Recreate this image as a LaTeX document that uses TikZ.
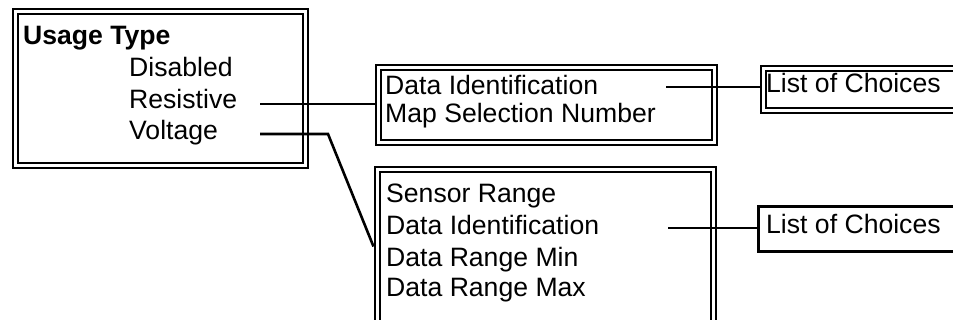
\documentclass[tikz,border=0pt]{standalone}
\usepackage{fontspec}
\setmainfont{Liberation Sans}
\begin{document}
\begin{tikzpicture}[x=1pt,y=-1pt,
  txt/.style={anchor=base west,inner sep=0pt,font=\fontsize{26.6}{31}\selectfont},
  dbox/.style={draw,double,line width=2pt,double distance=3pt,anchor=north west,inner sep=0pt,outer sep=3.5pt},
  sbox/.style={draw,line width=2.6pt,anchor=north west,inner sep=0pt},
  conn/.style={line width=2.6pt}]
\clip (0,0) rectangle (953,320);
\fill[white] (0,0) rectangle (953,320);
% boxes
\node[dbox,minimum width=289.5pt,minimum height=154pt] (ub) at (12,8.25) {};
\node[dbox,minimum width=335.5pt,minimum height=75pt] (d1) at (375,64) {};
\node[dbox,minimum width=336.5pt,minimum height=154pt] (d2) at (373.5,166) {};
\node[dbox,minimum width=260pt,minimum height=42.5pt] (lc1) at (759.5,65) {};
\node[sbox,minimum width=260pt,minimum height=45pt] (lc2) at (757,205) {};
% texts
\node[txt,font=\fontsize{26.6}{31}\selectfont\bfseries] (ut) at (23,45) {Usage Type};
\node[txt] (dis) at (129,77) {Disabled};
\node[txt] (res) at (129,109) {Resistive};
\node[txt] (vol) at (129,140) {Voltage};
\node[txt] (di1) at (385,95) {Data Identification};
\node[txt] (msn) at (385,123) {Map Selection Number};
\node[txt] (sr) at (386,203) {Sensor Range};
\node[txt] (di2) at (386,235) {Data Identification};
\node[txt] (drmin) at (386,267) {Data Range Min};
\node[txt] (drmax) at (386,297) {Data Range Max};
\node[txt] (lct1) at (766,93) {List of Choices};
\node[txt] (lct2) at (766,234) {List of Choices};
% connector start points
\coordinate (rs) at (260,104);
\coordinate (vs) at (260,134);
\coordinate (vb) at (328,134);
\coordinate (c1) at (666,87);
\coordinate (c2) at (668,228);
% connectors
\draw[conn] (rs) -- (rs -| d1.west);
\draw[conn] (vs) -- (vb) -- (d2.west);
\draw[conn] (c1) -- (c1 -| lc1.west);
\draw[conn] (c2) -- (c2 -| lc2.west);
\end{tikzpicture}
\end{document}
